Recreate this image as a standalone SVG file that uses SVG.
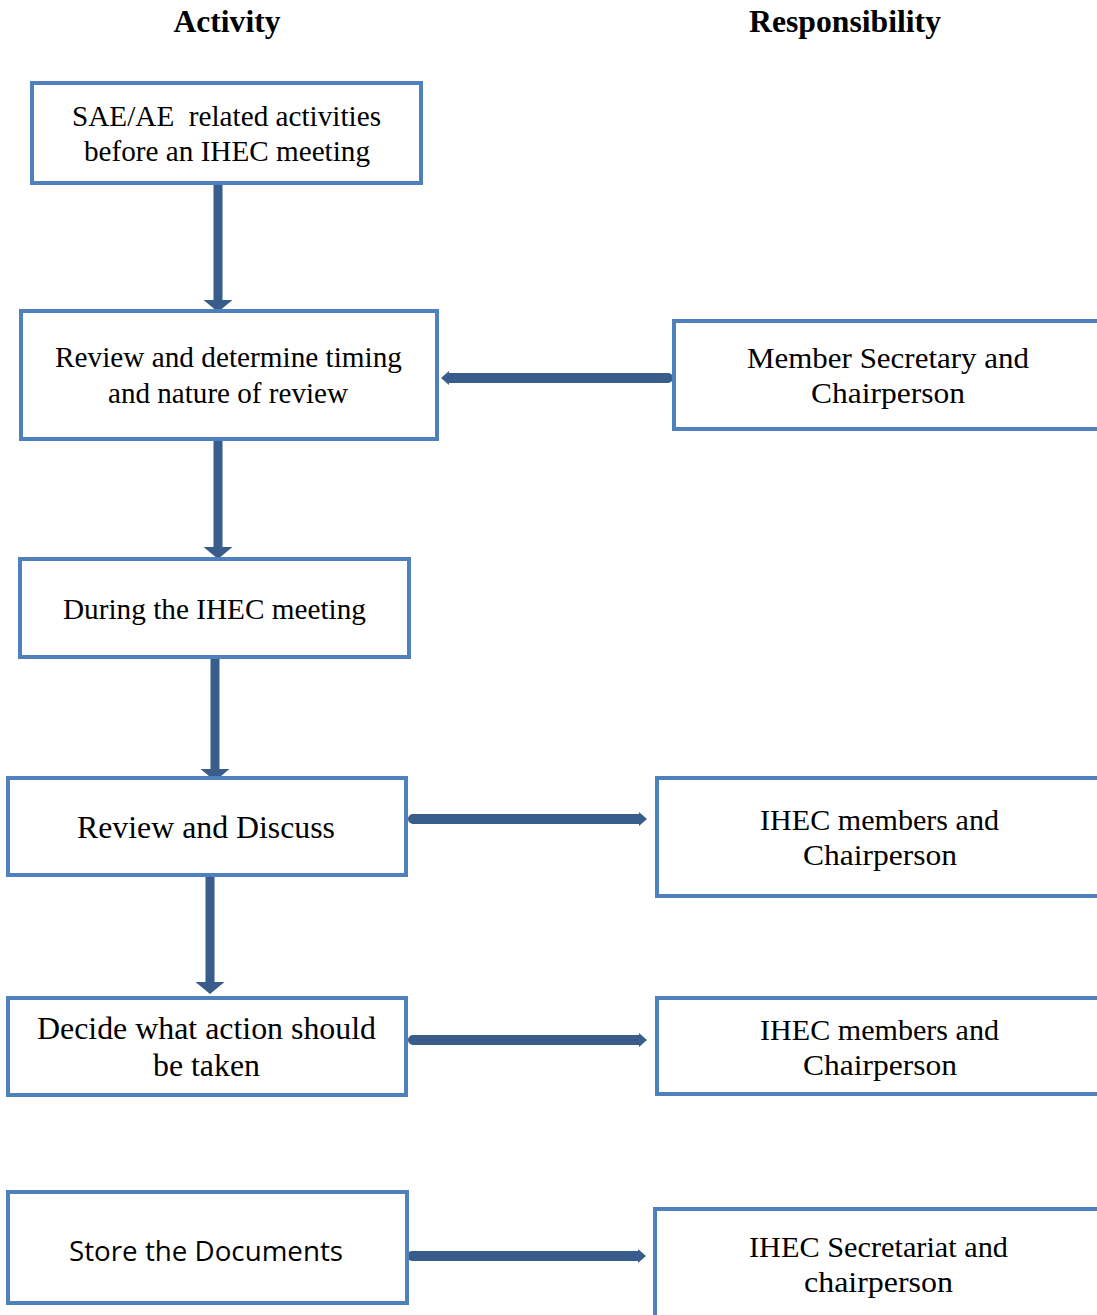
<svg xmlns="http://www.w3.org/2000/svg" width="1097" height="1315" viewBox="0 0 1097 1315">
  <style>
    .box { fill: #ffffff; stroke: #4f81bd; stroke-width: 4; }
    .hd { font-family: "Liberation Serif", "Times New Roman", serif; font-weight: bold; font-size: 31px; fill: #000; text-anchor: middle; }
    .tx { font-family: "Liberation Serif", "Times New Roman", serif; font-size: 29px; fill: #000; text-anchor: middle; }
    .lg { font-size: 32px; }
    .sx { font-family: "Open Sans", "Liberation Sans", sans-serif; font-size: 28px; fill: #000; text-anchor: middle; }
    .ar { fill: #385d8a; }
  </style>

  <!-- column headings -->
  <text class="hd" x="227" y="32" textLength="107" lengthAdjust="spacingAndGlyphs">Activity</text>
  <text class="hd" x="845" y="32" textLength="192" lengthAdjust="spacingAndGlyphs">Responsibility</text>

  <!-- connectors -->
  <g id="connectors">
    <!-- vertical flow arrows -->
    <path class="ar" d="M213.5,185 h9 v115 h10 l-14.5,12 l-14.5,-12 h10 z"/>
    <path class="ar" d="M213.5,439 h9 v108 h10 l-14.5,12 l-14.5,-12 h10 z"/>
    <path class="ar" d="M210.5,650 h9 v119 h10 l-14.5,12 l-14.5,-12 h10 z"/>
    <path class="ar" d="M205.5,875 h9 v107 h10 l-14.5,12 l-14.5,-12 h10 z"/>
    <!-- horizontal links -->
    <path class="ar" d="M441,378 l8,-7 v2 h219 a5,5 0 0 1 0,10 h-219 v2 z"/>
    <path class="ar" d="M647,819 l-8,-7 v2 h-226 a5,5 0 0 0 0,10 h226 v2 z"/>
    <path class="ar" d="M647,1040 l-8,-7 v2 h-226 a5,5 0 0 0 0,10 h226 v2 z"/>
    <path class="ar" d="M646,1256 l-8,-7 v2 h-226 a5,5 0 0 0 0,10 h226 v2 z"/>
  </g>

  <!-- activity column -->
  <g id="n-sae">
    <rect class="box" x="32" y="83" width="389" height="100"/>
    <text class="tx" x="226.5" y="126" textLength="309" lengthAdjust="spacingAndGlyphs" xml:space="preserve">SAE/AE  related activities</text>
    <text class="tx" x="227" y="161" textLength="286" lengthAdjust="spacingAndGlyphs">before an IHEC meeting</text>
  </g>
  <g id="n-review-timing">
    <rect class="box" x="21" y="311" width="416" height="128"/>
    <text class="tx" x="228.5" y="367" textLength="347" lengthAdjust="spacingAndGlyphs">Review and determine timing</text>
    <text class="tx" x="228" y="403" textLength="240" lengthAdjust="spacingAndGlyphs">and nature of review</text>
  </g>
  <g id="n-during">
    <rect class="box" x="20" y="559" width="389" height="98"/>
    <text class="tx" x="214.5" y="619" textLength="303" lengthAdjust="spacingAndGlyphs">During the IHEC meeting</text>
  </g>
  <g id="n-review-discuss">
    <rect class="box" x="8" y="778" width="398" height="97"/>
    <text class="tx lg" x="206" y="838" textLength="258" lengthAdjust="spacingAndGlyphs">Review and Discuss</text>
  </g>
  <g id="n-decide">
    <rect class="box" x="8" y="998" width="398" height="97"/>
    <text class="tx lg" x="206.5" y="1039" textLength="339" lengthAdjust="spacingAndGlyphs">Decide what action should</text>
    <text class="tx lg" x="206.5" y="1076" textLength="107" lengthAdjust="spacingAndGlyphs">be taken</text>
  </g>
  <g id="n-store">
    <rect class="box" x="8" y="1192" width="399" height="111"/>
    <text class="sx" x="206" y="1261" textLength="274" lengthAdjust="spacingAndGlyphs">Store the Documents</text>
  </g>

  <!-- responsibility column -->
  <g id="r-member">
    <rect class="box" x="674" y="321" width="430" height="108"/>
    <text class="tx" x="888" y="368" textLength="282" lengthAdjust="spacingAndGlyphs">Member Secretary and</text>
    <text class="tx" x="888" y="403" textLength="154" lengthAdjust="spacingAndGlyphs">Chairperson</text>
  </g>
  <g id="r-ihec-1">
    <rect class="box" x="657" y="778" width="447" height="118"/>
    <text class="tx" x="879.5" y="830" textLength="239" lengthAdjust="spacingAndGlyphs">IHEC members and</text>
    <text class="tx" x="880" y="865" textLength="154" lengthAdjust="spacingAndGlyphs">Chairperson</text>
  </g>
  <g id="r-ihec-2">
    <rect class="box" x="657" y="998" width="447" height="96"/>
    <text class="tx" x="879.5" y="1040" textLength="239" lengthAdjust="spacingAndGlyphs">IHEC members and</text>
    <text class="tx" x="880" y="1075" textLength="154" lengthAdjust="spacingAndGlyphs">Chairperson</text>
  </g>
  <g id="r-secretariat">
    <rect class="box" x="655" y="1209" width="449" height="115"/>
    <text class="tx" x="878.5" y="1257" textLength="259" lengthAdjust="spacingAndGlyphs">IHEC Secretariat and</text>
    <text class="tx" x="878.5" y="1292" textLength="149" lengthAdjust="spacingAndGlyphs">chairperson</text>
  </g>
</svg>
